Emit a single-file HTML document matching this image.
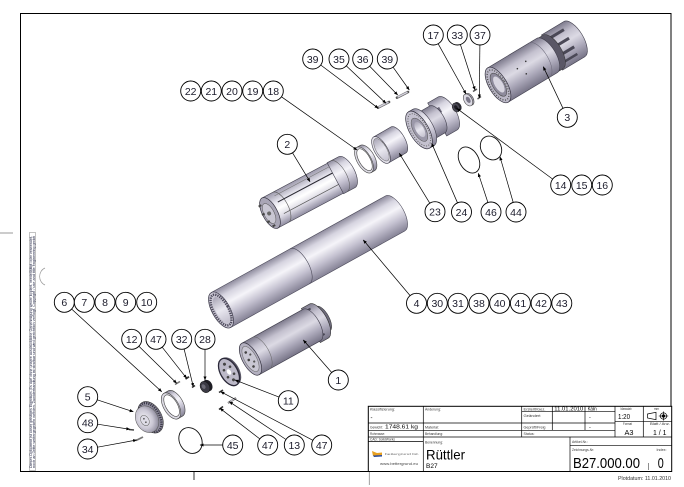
<!DOCTYPE html>
<html><head><meta charset="utf-8">
<style>
html,body{margin:0;padding:0;background:#fff;}
svg{display:block;}
text{font-family:"Liberation Sans",Arial,sans-serif;}
</style></head><body>
<svg width="684" height="487" viewBox="0 0 684 487" xmlns="http://www.w3.org/2000/svg">
<defs>
<linearGradient id="met" x1="0" y1="0" x2="0" y2="1">
<stop offset="0" stop-color="#8e8b9d"/><stop offset="0.2" stop-color="#d6d4e0"/><stop offset="0.42" stop-color="#f5f4f9"/><stop offset="0.68" stop-color="#c6c3d2"/><stop offset="1" stop-color="#858295"/>
</linearGradient>
<linearGradient id="met3" x1="0" y1="0" x2="0" y2="1">
<stop offset="0" stop-color="#7d7a8c"/><stop offset="0.25" stop-color="#c4c1cf"/><stop offset="0.45" stop-color="#dcdae4"/><stop offset="0.7" stop-color="#aeabbc"/><stop offset="1" stop-color="#777487"/>
</linearGradient>
<linearGradient id="glass" x1="0" y1="0" x2="0" y2="1">
<stop offset="0" stop-color="#9c99ab"/><stop offset="0.3" stop-color="#e6e5ee"/><stop offset="0.5" stop-color="#ffffff"/><stop offset="0.75" stop-color="#d9d7e2"/><stop offset="1" stop-color="#8f8ca0"/>
</linearGradient>
<linearGradient id="inner" x1="0" y1="0" x2="0" y2="1">
<stop offset="0" stop-color="#a9a6b6"/><stop offset="0.5" stop-color="#e9e8f0"/><stop offset="1" stop-color="#c3c0ce"/>
</linearGradient>
<radialGradient id="dome" cx="0.4" cy="0.45" r="0.6">
<stop offset="0" stop-color="#f4f3f8"/><stop offset="0.6" stop-color="#cac7d4"/><stop offset="1" stop-color="#8e8b9c"/>
</radialGradient>
<marker id="ar" viewBox="0 0 6 6" refX="5.5" refY="3" markerWidth="4" markerHeight="4" markerUnits="userSpaceOnUse" orient="auto"><path d="M0,0.6 L6,3 L0,5.4 Z" fill="#000"/></marker>
</defs>

<!-- frame -->
<rect x="20.5" y="13.5" width="650.5" height="458" fill="none" stroke="#000" stroke-width="1"/>
<line x1="0" y1="233" x2="13" y2="233" stroke="#999" stroke-width="1"/>
<line x1="194" y1="472" x2="194" y2="480" stroke="#000" stroke-width="0.8"/>
<line x1="369.3" y1="472" x2="369.3" y2="485" stroke="#888" stroke-width="0.8"/>
<path d="M45,268 A8,9 0 0 0 45,285" fill="none" stroke="#999" stroke-width="0.7"/>

<!-- left margin text box -->
<rect x="29.5" y="232.5" width="6" height="238" fill="#fff" stroke="#999" stroke-width="0.6"/>
<text transform="translate(32,468) rotate(-90)" font-size="3.2" fill="#1d2040" textLength="232" lengthAdjust="spacingAndGlyphs">Dieses Dokument ist unser geistiges Eigentum. Es darf ohne unsere ausdrückliche Genehmigung weder kopiert, vervielfältigt oder verwendet,</text>
<text transform="translate(34.8,468) rotate(-90)" font-size="3.2" fill="#1d2040" textLength="232" lengthAdjust="spacingAndGlyphs">noch an Dritte weitergegeben werden. Zuwiderhandlung ist strafbar und wird gerichtlich verfolgt. Copyright / use and title engineering gmbh</text>

<!-- ===== PARTS ===== -->
<!-- Part 3 -->
<g transform="translate(498,85) rotate(-31)">
<path d="M63,-20.5 L89,-20.5 A9,20.5 0 0 1 89,20.5 L63,20.5 Z" fill="url(#met3)" stroke="#3e3c4a" stroke-width="0.6"/>
<rect x="67" y="-15" width="18" height="3" fill="#4a4856"/>
<rect x="67" y="-5" width="18" height="3" fill="#4a4856"/>
<rect x="67" y="5" width="18" height="3" fill="#4a4856"/>
<rect x="68" y="13" width="16" height="2.5" fill="#4a4856"/>
<path d="M56,-19.5 L64,-19.5 A8.8,19.5 0 0 1 64,19.5 L56,19.5 Z" fill="#5a5766" stroke="#333" stroke-width="0.5"/>
<path d="M0,-20 L57,-20 A9,20 0 0 1 57,20 L0,20 Z" fill="url(#met3)" stroke="#3e3c4a" stroke-width="0.6"/>
<path d="M48,-20 A9,20 0 0 1 48,20" fill="none" stroke="#6a6878" stroke-width="0.5"/>
<circle cx="25" cy="-4" r="0.8" fill="#333"/><circle cx="36" cy="-6" r="0.8" fill="#333"/><circle cx="30" cy="5" r="0.8" fill="#333"/>
<ellipse cx="0" cy="0" rx="9" ry="20" fill="#bab7c6" stroke="#33313e" stroke-width="0.7"/>
<ellipse cx="0" cy="0" rx="7.5" ry="17" fill="none" stroke="#555" stroke-width="1.4" stroke-dasharray="1 1.6"/>
<ellipse cx="0.5" cy="0" rx="5.8" ry="13" fill="#8e8b9c" stroke="#444" stroke-width="0.5"/>
<ellipse cx="1" cy="0" rx="4" ry="9" fill="#d8d6e0"/>
</g>

<!-- Part 24 -->
<g transform="translate(419,130) rotate(-30)">
<path d="M21,-19 L33,-19 A8.5,19 0 0 1 33,19 L21,19 Z" fill="url(#met)" stroke="#3e3c4a" stroke-width="0.6"/>
<rect x="24" y="-10" width="5" height="6" fill="#6d6a7b"/>
<path d="M5,-15.5 L21,-15.5 A7,15.5 0 0 1 21,15.5 L5,15.5 Z" fill="url(#met3)" stroke="#3e3c4a" stroke-width="0.6"/>
<path d="M0,-21 L5,-21 A9.5,21 0 0 1 5,21 L0,21 Z" fill="url(#met)" stroke="#3e3c4a" stroke-width="0.6"/>
<ellipse cx="0" cy="0" rx="9.5" ry="21" fill="#c4c1cf" stroke="#33313e" stroke-width="0.7"/>
<ellipse cx="0.3" cy="0" rx="8" ry="18" fill="none" stroke="#666" stroke-width="1" stroke-dasharray="1 1.5"/>
<ellipse cx="0.5" cy="0" rx="6" ry="13" fill="#9b98a9" stroke="#555" stroke-width="0.5"/>
<ellipse cx="1" cy="0" rx="4" ry="8.5" fill="url(#inner)"/>
</g>

<!-- pins top -->
<line x1="378" y1="107.6" x2="389" y2="102" stroke="#555" stroke-width="2.6" stroke-linecap="round"/>
<line x1="378.5" y1="107.2" x2="388.5" y2="102.2" stroke="#cfcdd8" stroke-width="1.6"/>
<line x1="397" y1="97.6" x2="408" y2="92" stroke="#555" stroke-width="2.6" stroke-linecap="round"/>
<line x1="397.5" y1="97.2" x2="407.5" y2="92.2" stroke="#cfcdd8" stroke-width="1.6"/>
<line x1="473" y1="91.5" x2="477" y2="89" stroke="#555" stroke-width="1.4"/>
<line x1="477.5" y1="99" x2="481" y2="96.5" stroke="#555" stroke-width="1.4"/>

<!-- part 17 ring, 14 nut -->
<g transform="translate(468,100) rotate(-30)">
<ellipse cx="1.5" cy="0" rx="4" ry="6.5" fill="#a8a5b5" stroke="#444" stroke-width="0.6"/>
<ellipse cx="0" cy="0" rx="4" ry="6.5" fill="#dcdae4" stroke="#444" stroke-width="0.6"/>
<ellipse cx="0.3" cy="0" rx="2" ry="3.4" fill="#7a7788"/>
</g>
<g transform="translate(456,107.5) rotate(-30)">
<ellipse cx="2" cy="0" rx="3.5" ry="4.8" fill="#2a2932"/>
<ellipse cx="0" cy="0" rx="3.5" ry="4.8" fill="#4a4854" stroke="#222" stroke-width="0.5"/>
<ellipse cx="0" cy="0" rx="1.6" ry="2.4" fill="#1c1b22"/>
</g>

<!-- O-rings 46, 44 -->
<ellipse cx="469" cy="160" rx="9.5" ry="14" transform="rotate(-30 469 160)" fill="none" stroke="#111" stroke-width="0.9"/>
<ellipse cx="491" cy="148" rx="10" ry="12.5" transform="rotate(-30 491 148)" fill="none" stroke="#111" stroke-width="0.9"/>

<!-- sleeve 23 -->
<g transform="translate(381,150) rotate(-30)">
<path d="M0,-15 L20,-15 A6.5,15 0 0 1 20,15 L0,15 Z" fill="url(#met)" stroke="#3e3c4a" stroke-width="0.6"/>
<ellipse cx="0" cy="0" rx="6.5" ry="15" fill="#e2e0e9" stroke="#3e3c4a" stroke-width="0.6"/>
<ellipse cx="0.5" cy="0" rx="5.2" ry="12.6" fill="url(#inner)" stroke="#666" stroke-width="0.5"/>
</g>

<!-- ring 18 -->
<g transform="translate(364,160) rotate(-30)">
<path d="M0,-14.5 L4,-14.5 A7,14.5 0 0 1 4,14.5 L0,14.5 Z" fill="url(#met)" stroke="#444" stroke-width="0.6"/>
<ellipse cx="0" cy="0" rx="7" ry="14.5" fill="#dddbe4" stroke="#444" stroke-width="0.6"/>
<ellipse cx="0.6" cy="0" rx="5.5" ry="12.2" fill="#fff" stroke="#444" stroke-width="0.6"/>
</g>

<!-- part 2 -->
<g transform="translate(270,213) rotate(-28)">
<path d="M0,-17 L87,-17 A7.5,17 0 0 1 87,17 L0,17 Z" fill="url(#glass)" stroke="#3e3c4a" stroke-width="0.6"/>
<path d="M74,-17.5 L87,-17.5 A7.7,17.5 0 0 1 87,17.5 L74,17.5 Z" fill="url(#met)" stroke="#3e3c4a" stroke-width="0.6"/>
<path d="M78,-17.5 A7.7,17.5 0 0 1 78,17.5" fill="none" stroke="#555" stroke-width="0.5"/>
<path d="M12,-17 A7.5,17 0 0 1 12,17" fill="none" stroke="#555" stroke-width="0.6"/>
<line x1="12" y1="-6" x2="74" y2="-6" stroke="#2b2a33" stroke-width="1.1"/>
<line x1="12" y1="7" x2="74" y2="7" stroke="#555" stroke-width="0.7"/>
<line x1="12" y1="-13" x2="74" y2="-13" stroke="#777" stroke-width="0.5"/>
<ellipse cx="0" cy="0" rx="7.5" ry="17" fill="#a9a6b6" stroke="#33313e" stroke-width="0.7"/>
<ellipse cx="-1" cy="0" rx="5" ry="11" fill="#c9c7d3" stroke="#555" stroke-width="0.5"/>
<rect x="-7" y="-12" width="3" height="2" fill="#444"/>
<rect x="-8" y="-3" width="3" height="2" fill="#444"/>
<rect x="-7" y="6" width="3" height="2" fill="#444"/>
<rect x="-4" y="12" width="3" height="2" fill="#444"/>
<circle cx="-1" cy="0" r="2" fill="#666"/>
</g>

<!-- part 4 tube -->
<g transform="translate(221,310) rotate(-29)">
<path d="M0,-20 L199,-20 A9,20 0 0 1 199,20 L0,20 Z" fill="url(#met)" stroke="#4a4858" stroke-width="0.6"/>
<path d="M90,-20 A9,20 0 0 1 90,20" fill="none" stroke="#4a4858" stroke-width="0.6"/>
<ellipse cx="0" cy="0" rx="9" ry="20" fill="#c9c6d3" stroke="#3a3848" stroke-width="0.7"/>
<ellipse cx="0" cy="0" rx="7.4" ry="17" fill="none" stroke="#4e4b5c" stroke-width="2.4" stroke-dasharray="1.3 1"/>
<ellipse cx="0.5" cy="0" rx="5.7" ry="14.2" fill="url(#inner)"/>
</g>

<!-- part 1 -->
<g transform="translate(250.5,359) rotate(-29)">
<path d="M77,-14 L83,-14 A6,14 0 0 1 83,14 L77,14 Z" fill="#6e6b7c" stroke="#333" stroke-width="0.5"/>
<path d="M69,-19.5 L78,-19.5 A8.5,19.5 0 0 1 78,19.5 L69,19.5 Z" fill="url(#met3)" stroke="#333" stroke-width="0.6"/>
<rect x="70" y="-16" width="7" height="2" fill="#4a4856"/>
<rect x="70" y="-6" width="7" height="2" fill="#4a4856"/>
<rect x="70" y="4" width="7" height="2" fill="#4a4856"/>
<rect x="70" y="13" width="7" height="2" fill="#4a4856"/>
<path d="M0,-18 L70,-18 A8,18 0 0 1 70,18 L0,18 Z" fill="url(#met3)" stroke="#3e3c4a" stroke-width="0.6"/>
<path d="M12,-18 A8,18 0 0 1 12,18" fill="none" stroke="#666" stroke-width="0.5"/>
<ellipse cx="0" cy="0" rx="8" ry="18" fill="#b3b0c0" stroke="#33313e" stroke-width="0.7"/>
<ellipse cx="0" cy="0" rx="6" ry="14" fill="#c9c7d3" stroke="#666" stroke-width="0.5"/>
<circle cx="-1" cy="-8" r="1.3" fill="#444"/><circle cx="-2" cy="0" r="1.3" fill="#444"/><circle cx="-1" cy="8" r="1.3" fill="#444"/>
<circle cx="2" cy="-4" r="1.1" fill="#555"/><circle cx="2" cy="4" r="1.1" fill="#555"/>
</g>

<!-- part 11 disc -->
<g transform="translate(229,372) rotate(-30)">
<ellipse cx="2" cy="0" rx="8.5" ry="15" fill="#5a5866"/>
<ellipse cx="0" cy="0" rx="8.5" ry="15" fill="#bcb9c8" stroke="#2a2838" stroke-width="1.3"/>
<circle cx="0" cy="-9" r="1.5" fill="#444"/><circle cx="0" cy="9" r="1.5" fill="#444"/>
<circle cx="-3.5" cy="-4" r="1.3" fill="#444"/><circle cx="-3.5" cy="4" r="1.3" fill="#444"/>
<circle cx="3.5" cy="-4" r="1.3" fill="#444"/><circle cx="3.5" cy="4" r="1.3" fill="#444"/>
<ellipse cx="0" cy="0" rx="2" ry="3" fill="#fff"/>
</g>

<!-- part 28 -->
<g transform="translate(205,387) rotate(-30)">
<ellipse cx="3" cy="0" rx="4.5" ry="6" fill="#1e1d24"/>
<ellipse cx="0" cy="0" rx="4.5" ry="6" fill="#3b3a44" stroke="#111" stroke-width="0.5"/>
<ellipse cx="-1" cy="-1" rx="1.8" ry="2.5" fill="#6b6a75"/>
</g>

<!-- small bottom pins -->
<line x1="175" y1="384.5" x2="180" y2="381.5" stroke="#777" stroke-width="1.6"/>
<line x1="185.5" y1="379" x2="189" y2="376.8" stroke="#333" stroke-width="1.8"/>
<line x1="192" y1="387.5" x2="195" y2="385.5" stroke="#333" stroke-width="1.6"/>
<line x1="219" y1="392.5" x2="223" y2="390" stroke="#333" stroke-width="1.6"/>
<line x1="228" y1="403" x2="236" y2="398" stroke="#666" stroke-width="2"/>
<line x1="228.5" y1="402.6" x2="235.5" y2="398.2" stroke="#d4d2dc" stroke-width="1"/>
<line x1="219" y1="409.5" x2="223" y2="406.5" stroke="#333" stroke-width="1.6"/>
<line x1="129" y1="429.5" x2="134" y2="430" stroke="#444" stroke-width="1.5"/>
<line x1="136" y1="440.5" x2="143" y2="437" stroke="#777" stroke-width="1.8"/>

<!-- ring 6 -->
<g transform="translate(171,406) rotate(-30)">
<path d="M0,-14.5 L5,-14.5 A7.5,14.5 0 0 1 5,14.5 L0,14.5 Z" fill="url(#met)" stroke="#444" stroke-width="0.6"/>
<ellipse cx="0" cy="0" rx="7.5" ry="14.5" fill="#dddbe4" stroke="#444" stroke-width="0.6"/>
<ellipse cx="0.7" cy="0" rx="5.8" ry="12" fill="#fff" stroke="#444" stroke-width="0.6"/>
</g>

<!-- O-ring 45 -->
<ellipse cx="190.5" cy="440.5" rx="11" ry="13.5" transform="rotate(-30 190.5 440.5)" fill="none" stroke="#111" stroke-width="0.9"/>

<!-- part 5 end cap -->
<g transform="translate(147.5,419) rotate(-30)">
<ellipse cx="3.5" cy="0" rx="11" ry="17" fill="#8f8c9d" stroke="#333" stroke-width="0.6"/>
<ellipse cx="3" cy="0" rx="9.5" ry="15.8" fill="none" stroke="#3a3846" stroke-width="2.4" stroke-dasharray="1.2 1.1"/>
<ellipse cx="-0.5" cy="0" rx="11" ry="14" fill="url(#dome)" stroke="#555" stroke-width="0.5"/>
<ellipse cx="-3" cy="0" rx="4" ry="5.5" fill="#dedce6" stroke="#666" stroke-width="0.5"/>
<circle cx="-3" cy="-2" r="0.8" fill="#444"/><circle cx="-3" cy="2" r="0.8" fill="#444"/>
</g>

<!-- ===== LEADERS ===== -->
<g stroke="#000" stroke-width="0.7" fill="none" marker-end="url(#ar)">
<line x1="320.7" y1="65" x2="378.3" y2="108.3"/>
<line x1="346.3" y1="65.9" x2="386" y2="103.3"/>
<line x1="369.7" y1="66.2" x2="397.7" y2="95"/>
<line x1="393.1" y1="67.2" x2="409.3" y2="90"/>
<line x1="281.5" y1="96.8" x2="357" y2="150"/>
<line x1="438.1" y1="43.7" x2="466" y2="94"/>
<line x1="460.4" y1="44.5" x2="475" y2="90"/>
<line x1="479.9" y1="45" x2="479.3" y2="98"/>
<line x1="563" y1="108.3" x2="543.3" y2="66.7"/>
<line x1="552.7" y1="179.1" x2="456.7" y2="108.3"/>
<line x1="292.5" y1="152.8" x2="310" y2="181.7"/>
<line x1="429.8" y1="203.2" x2="399.3" y2="153.3"/>
<line x1="457.5" y1="202.8" x2="431.7" y2="143.3"/>
<line x1="487.9" y1="202.5" x2="478.3" y2="173.3"/>
<line x1="513.2" y1="202.4" x2="500" y2="156.7"/>
<line x1="410.1" y1="295.6" x2="363.3" y2="240"/>
<line x1="71.7" y1="309.1" x2="161.7" y2="391.7"/>
<line x1="138.9" y1="346.3" x2="176.7" y2="383.3"/>
<line x1="162.2" y1="347.2" x2="186.7" y2="378.3"/>
<line x1="184.1" y1="349" x2="193.3" y2="386.7"/>
<line x1="205" y1="349.3" x2="205" y2="380"/>
<line x1="97.2" y1="399.8" x2="133.3" y2="411.7"/>
<line x1="97.6" y1="424.2" x2="130" y2="429.3"/>
<line x1="97.5" y1="447.2" x2="136.7" y2="440"/>
<line x1="222.7" y1="445" x2="200" y2="445"/>
<line x1="259.8" y1="438.9" x2="220" y2="408.3"/>
<line x1="286" y1="439.5" x2="229.3" y2="401.7"/>
<line x1="312.9" y1="440.3" x2="220.7" y2="391.7"/>
<line x1="279" y1="397.1" x2="235" y2="380"/>
<line x1="331.7" y1="372.5" x2="303.3" y2="340"/>
</g>

<!-- ===== BALLOONS ===== -->
<g fill="#fff" stroke="#000" stroke-width="0.9">
<circle cx="312.7" cy="59" r="10"/><circle cx="339" cy="59" r="10"/><circle cx="362.7" cy="59" r="10"/><circle cx="387.3" cy="59" r="10"/>
<circle cx="190.7" cy="91" r="10"/><circle cx="211.3" cy="91" r="10"/><circle cx="232" cy="91" r="10"/><circle cx="252.7" cy="91" r="10"/><circle cx="273.3" cy="91" r="10"/>
<circle cx="433.3" cy="35" r="10"/><circle cx="457.3" cy="35" r="10"/><circle cx="480" cy="35" r="10"/>
<circle cx="567.3" cy="117.3" r="10"/>
<circle cx="560.7" cy="185" r="10"/><circle cx="581.7" cy="185" r="10"/><circle cx="602.3" cy="185" r="10"/>
<circle cx="287.3" cy="144.3" r="10"/>
<circle cx="435" cy="211.7" r="10"/><circle cx="461.5" cy="212" r="10"/><circle cx="491" cy="212" r="10"/><circle cx="516" cy="212" r="10"/>
<circle cx="416.5" cy="303.3" r="10"/><circle cx="437.3" cy="303.3" r="10"/><circle cx="458" cy="303.3" r="10"/><circle cx="479" cy="303.3" r="10"/><circle cx="499.7" cy="303.3" r="10"/><circle cx="520.4" cy="303.3" r="10"/><circle cx="541.1" cy="303.3" r="10"/><circle cx="561.8" cy="303.3" r="10"/>
<circle cx="64.3" cy="302.3" r="10"/><circle cx="84.3" cy="302.3" r="10"/><circle cx="105" cy="302.3" r="10"/><circle cx="125.7" cy="302.3" r="10"/><circle cx="146.7" cy="302.3" r="10"/>
<circle cx="131.7" cy="339.3" r="10"/><circle cx="156" cy="339.3" r="10"/><circle cx="181.7" cy="339.3" r="10"/><circle cx="205" cy="339.3" r="10"/>
<circle cx="87.7" cy="396.7" r="10"/><circle cx="87.7" cy="422.7" r="10"/><circle cx="87.7" cy="449" r="10"/>
<circle cx="232.7" cy="445" r="10"/><circle cx="267.7" cy="445" r="10"/><circle cx="294.3" cy="445" r="10"/><circle cx="321.7" cy="445" r="10"/>
<circle cx="288.3" cy="400.7" r="10"/><circle cx="338.3" cy="380" r="10"/>
</g>
<g font-size="10.5" fill="#1b1b2b" text-anchor="middle">
<text x="312.7" y="62.8">39</text><text x="339" y="62.8">35</text><text x="362.7" y="62.8">36</text><text x="387.3" y="62.8">39</text>
<text x="190.7" y="94.8">22</text><text x="211.3" y="94.8">21</text><text x="232" y="94.8">20</text><text x="252.7" y="94.8">19</text><text x="273.3" y="94.8">18</text>
<text x="433.3" y="38.8">17</text><text x="457.3" y="38.8">33</text><text x="480" y="38.8">37</text>
<text x="567.3" y="121.1">3</text>
<text x="560.7" y="188.8">14</text><text x="581.7" y="188.8">15</text><text x="602.3" y="188.8">16</text>
<text x="287.3" y="148.1">2</text>
<text x="435" y="215.5">23</text><text x="461.5" y="215.8">24</text><text x="491" y="215.8">46</text><text x="516" y="215.8">44</text>
<text x="416.5" y="307.1">4</text><text x="437.3" y="307.1">30</text><text x="458" y="307.1">31</text><text x="479" y="307.1">38</text><text x="499.7" y="307.1">40</text><text x="520.4" y="307.1">41</text><text x="541.1" y="307.1">42</text><text x="561.8" y="307.1">43</text>
<text x="64.3" y="306.1">6</text><text x="84.3" y="306.1">7</text><text x="105" y="306.1">8</text><text x="125.7" y="306.1">9</text><text x="146.7" y="306.1">10</text>
<text x="131.7" y="343.1">12</text><text x="156" y="343.1">47</text><text x="181.7" y="343.1">32</text><text x="205" y="343.1">28</text>
<text x="87.7" y="400.5">5</text><text x="87.7" y="426.5">48</text><text x="87.7" y="452.8">34</text>
<text x="232.7" y="448.8">45</text><text x="267.7" y="448.8">47</text><text x="294.3" y="448.8">13</text><text x="321.7" y="448.8">47</text>
<text x="288.3" y="404.5">11</text><text x="338.3" y="383.8">1</text>
</g>

<!-- ===== TITLE BLOCK ===== -->
<rect x="368.3" y="406.3" width="303.4" height="65.2" fill="#fff" stroke="#000" stroke-width="1"/>
<g stroke="#000" stroke-width="0.7">
<line x1="423.3" y1="406.3" x2="423.3" y2="471.5"/>
<line x1="521.7" y1="406.3" x2="521.7" y2="437"/>
<line x1="368.3" y1="423" x2="615" y2="423"/>
<line x1="368.3" y1="430.3" x2="615" y2="430.3"/>
<line x1="368.3" y1="437" x2="671.7" y2="437"/>
<line x1="368.3" y1="441.5" x2="423.3" y2="441.5"/>
<line x1="521.7" y1="411.7" x2="615" y2="411.7"/>
<line x1="552.3" y1="406.3" x2="552.3" y2="430.3"/>
<line x1="585" y1="406.3" x2="585" y2="430.3"/>
<line x1="615" y1="406.3" x2="615" y2="437"/>
<line x1="643.3" y1="406.3" x2="643.3" y2="437"/>
<line x1="615" y1="421.3" x2="671.7" y2="421.3"/>
<line x1="570" y1="437" x2="570" y2="471.5"/>
<line x1="570" y1="445.3" x2="671.7" y2="445.3"/>
</g>
<line x1="648.3" y1="463" x2="648.3" y2="470" stroke="#444" stroke-width="0.6"/>

<g font-size="3.6" fill="#333">
<text x="370" y="410.5" textLength="25" lengthAdjust="spacingAndGlyphs">Klassifizierung:</text>
<text x="370" y="428.3" textLength="13" lengthAdjust="spacingAndGlyphs">Gewicht:</text>
<text x="370" y="434.8" textLength="15" lengthAdjust="spacingAndGlyphs">Rohmasse:</text>
<text x="370" y="440.3" textLength="25" lengthAdjust="spacingAndGlyphs">CAD: SolidWorks</text>
<text x="425" y="410.5" textLength="16" lengthAdjust="spacingAndGlyphs">Änderung:</text>
<text x="425" y="428.3" textLength="14" lengthAdjust="spacingAndGlyphs">Material:</text>
<text x="425" y="434.8" textLength="18" lengthAdjust="spacingAndGlyphs">Behandlung:</text>
<text x="425" y="443.5" textLength="18" lengthAdjust="spacingAndGlyphs">Benennung:</text>
<text x="523.5" y="410.5" textLength="22" lengthAdjust="spacingAndGlyphs">Erstellt/Gez.</text>
<text x="523.5" y="417" textLength="17" lengthAdjust="spacingAndGlyphs">Geändert</text>
<text x="523.5" y="428.3" textLength="22" lengthAdjust="spacingAndGlyphs">Geprüft/Freig</text>
<text x="523.5" y="434.8" textLength="11" lengthAdjust="spacingAndGlyphs">Status:</text>
<text x="620.5" y="410" textLength="11" lengthAdjust="spacingAndGlyphs">Massstab</text>
<text x="623" y="425" textLength="9" lengthAdjust="spacingAndGlyphs">Format</text>
<text x="654" y="410" textLength="5" lengthAdjust="spacingAndGlyphs">mm</text>
<text x="650" y="425" textLength="20" lengthAdjust="spacingAndGlyphs">Blatt / Anz.</text>
<text x="572" y="442.8" textLength="16" lengthAdjust="spacingAndGlyphs">Artikel-Nr.:</text>
<text x="572" y="451" textLength="22" lengthAdjust="spacingAndGlyphs">Zeichnungs-Nr:</text>
<text x="656.5" y="451" textLength="10" lengthAdjust="spacingAndGlyphs">Index:</text>
</g>
<g fill="#000">
<text x="370.5" y="419.5" font-size="6">-</text>
<text x="385" y="428.5" font-size="5.5" textLength="33" lengthAdjust="spacingAndGlyphs">1748.61 kg</text>
<text x="426" y="459.7" font-size="14" textLength="39" lengthAdjust="spacingAndGlyphs">Rüttler</text>
<text x="426" y="468" font-size="6.5">B27</text>
<text x="554.3" y="410.6" font-size="5.6" textLength="29" lengthAdjust="spacingAndGlyphs">11.01.2010</text>
<text x="587.7" y="410.6" font-size="5.4" textLength="9" lengthAdjust="spacingAndGlyphs">Kälin</text>
<text x="589" y="419" font-size="5.5">-</text>
<text x="589" y="428.5" font-size="5.5">-</text>
<text x="618" y="418.8" font-size="7" textLength="12" lengthAdjust="spacingAndGlyphs">1:20</text>
<text x="624.5" y="435" font-size="7.5" textLength="9" lengthAdjust="spacingAndGlyphs">A3</text>
<text x="653" y="435" font-size="7" textLength="13.5" lengthAdjust="spacingAndGlyphs">1 / 1</text>
<text x="573" y="468" font-size="15" textLength="67" lengthAdjust="spacingAndGlyphs">B27.000.00</text>
<text x="657.8" y="468" font-size="15" textLength="6" lengthAdjust="spacingAndGlyphs">0</text>
<text x="618" y="480" font-size="5.6" fill="#333" textLength="53" lengthAdjust="spacingAndGlyphs">Plotdatum: 11.01.2010</text>
</g>

<!-- projection symbol -->
<g stroke="#000" stroke-width="0.7" fill="none">
<path d="M647.5,414 L656,412.3 L656,419.7 L647.5,418 Z"/>
<circle cx="663.5" cy="416" r="3.2"/>
<line x1="658.8" y1="416" x2="668.2" y2="416"/>
<line x1="663.5" y1="411.5" x2="663.5" y2="420.5"/>
</g>
<circle cx="663.5" cy="416" r="1.6" fill="#000"/>

<!-- logo -->
<path d="M372,451 L377,453 L382,452.5 L382,455 L373,456 Z" fill="#e8a020"/>
<path d="M373,455.5 L382,455 L382,456.5 L374,457 Z" fill="#2a4a9a"/>
<text x="385" y="455" font-size="3" fill="#666" textLength="34" lengthAdjust="spacingAndGlyphs">bettergrund ltd.</text>
<text x="380" y="465" font-size="3.2" fill="#444" textLength="38" lengthAdjust="spacingAndGlyphs">www.bettergrund.eu</text>
</svg>
</body></html>
